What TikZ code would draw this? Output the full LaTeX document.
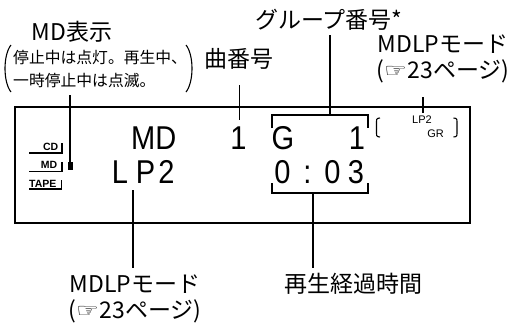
\documentclass[tikz,border=0pt]{standalone}
\usepackage{graphicx}
\usepackage{fontspec}
\newfontfamily\jp{Noto Sans CJK JP}
\newfontfamily\disp[FakeStretch=0.88]{Liberation Sans}
\newfontfamily\lab{Liberation Sans}
\newfontfamily\sym{DejaVu Sans}
\newcommand{\hand}{\raisebox{1pt}{\scalebox{1.7}[1.3]{\sym\fontsize{15}{15}\selectfont ☞}}\hspace{1pt}}
\begin{document}
\begin{tikzpicture}[x=1pt,y=-1pt,
  lbl/.style={inner sep=0pt,anchor=base,font=\jp\fontsize{23}{26}\selectfont},
  small/.style={inner sep=0pt,anchor=base west,font=\jp\fontsize{15.8}{20}\selectfont},
  seg/.style={inner sep=0pt,anchor=base,font=\disp\fontsize{33}{33}\selectfont},
  tiny/.style={inner sep=0pt,font=\lab\bfseries\fontsize{10.5}{11}\selectfont},
  mini/.style={inner sep=0pt,anchor=base,font=\lab\fontsize{11}{11}\selectfont},
  lead/.style={line width=1.6pt},
  frame/.style={line width=1.8pt},
  brk/.style={line width=1.6pt},
  paren/.style={line width=1.1pt},
  uline/.style={line width=1.2pt}]
\useasboundingbox (0,0) rectangle (519,327);

% display frame
\draw[frame] (15,107) rectangle (470,223);

% top labels
\node[lbl] (mdhyoji) at (72,40) {MD表示};
\node[small] (note1) at (13,63) {停止中は点灯。再生中、};
\node[small] (note2) at (13,86) {一時停止中は点滅。};
\draw[paren] (11,45) .. controls (3,55) and (3,82) .. (11,92);
\draw[paren] (186,45) .. controls (194,55) and (194,82) .. (186,92);
\node[lbl] (kyoku) at (239,67) {曲番号};
\node[lbl] (group) at (329,28) {グループ番号*};
\node[lbl] (mdlpT1) at (443,52) {MDLPモード};
\node[lbl] (mdlpT2) at (443,78) {(\hand 23ページ)};

% bottom labels
\node[lbl] (mdlpB1) at (135,292) {MDLPモード};
\node[lbl] (mdlpB2) at (135,318) {(\hand 23ページ)};
\node[lbl] (keika) at (353,292) {再生経過時間};

% source indicators
\node[tiny,anchor=base east] (cd) at (58.5,150) {CD};
\node[tiny,anchor=base east] (md) at (57.5,168.5) {MD};
\node[tiny,anchor=base west] (tape) at (29,187) {TAPE};
\draw[uline] (29,153) -- (62,153);
\draw[uline] (62,143) -- (62,153.6);
\draw[uline] (29,171.5) -- (62,171.5);
\draw[uline] (62,162) -- (62,172.1);
\draw[uline] (29,189) -- (61.5,189);
\draw[uline] (61.5,180) -- (61.5,189.6);
\fill (68,162) rectangle (72.5,170);

% large segment characters
\node[seg,anchor=base west] (dMD) at (131,149.5) {MD};
\node[seg] (dTrk) at (238.5,149.5) {1};
\node[seg] (dL) at (120,183.5) {L};
\node[seg] (dP) at (145.5,183.5) {P};
\node[seg] (d2) at (166.5,183.5) {2};
\node[seg] (dG) at (283,149.5) {G};
\node[seg] (dGrp) at (357,149.5) {1};
\node[seg] (t0) at (282.5,183.5) {0};
\node[seg] (tc) at (307.5,183.5) {:};
\node[seg] (t1) at (332.5,183.5) {0};
\node[seg] (t3) at (356,183.5) {3};

% small LP2 / GR indicator
\node[mini] (lp2) at (422,123.5) {LP2};
\node[mini] (gr) at (435.5,137) {GR};
\draw[paren] (380,118) .. controls (376,118) and (376.5,120) .. (376.5,124) -- (376.5,131) .. controls (376.5,135) and (376,137) .. (380,137);
\draw[paren] (453.5,118) .. controls (457.5,118) and (457,120) .. (457,124) -- (457,131) .. controls (457,135) and (457.5,137) .. (453.5,137);

% brackets around group / time
\draw[brk] (272,128) -- (272,115) -- (368,115) -- (368,128);
\draw[brk] (272,183) -- (272,193) -- (368,193) -- (368,183);

% leader lines
\coordinate (aMD) at (70,95);
\coordinate (bMD) at (70,163);
\draw[lead] (aMD) -- (bMD);
\coordinate (aK) at (239.5,85);
\coordinate (bK) at (239.5,120);
\draw[lead] (aK) -- (bK);
\coordinate (aG) at (330,35);
\coordinate (bG) at (330,115);
\draw[lead] (aG) -- (bG);
\coordinate (aT) at (423,97);
\coordinate (bT) at (423,113);
\draw[lead] (aT) -- (bT);
\coordinate (aB) at (133,190);
\coordinate (bB) at (133,268);
\draw[lead] (aB) -- (bB);
\coordinate (aE) at (313,193);
\coordinate (bE) at (313,268);
\draw[lead] (aE) -- (bE);
\end{tikzpicture}
\end{document}
